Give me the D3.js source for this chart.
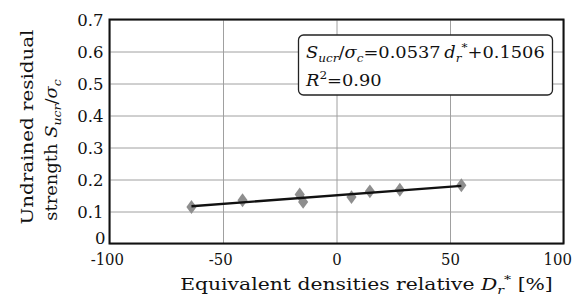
<!DOCTYPE html>
<html><head><meta charset="utf-8">
<script src="https://cdn.jsdelivr.net/npm/d3@7"></script>
<style>
body{margin:0;background:#fff;}
svg text{font-family:"DejaVu Serif","Liberation Serif",serif;fill:#111;}
</style></head>
<body><svg id="c" width="578" height="299"></svg>
<script>
// Data
const densities = [-63.9, -41.4, -16.2, -14.7, 6.6, 14.7, 27.9, 55.0]; // D*_r [%]
const strengths = [0.114, 0.135, 0.153, 0.130, 0.145, 0.163, 0.168, 0.182]; // S_ucr/sigma_c
const fitSlope = 0.0537, fitIntercept = 0.1506, fitR2 = "0.90";
const xTicks = [-100, -50, 0, 50, 100];
const yTicks = [0, 0.1, 0.2, 0.3, 0.4, 0.5, 0.6, 0.7];

const FONT = '"DejaVu Serif","Liberation Serif",serif';
const FS = 16.5, SUB = 11.5;
const svg = d3.select("#c");
const L = 109.5, R = 563.5, T = 19.5, B = 243.5;
const x = d3.scaleLinear().domain([-100, 100]).range([L, R]);
const y = d3.scaleLinear().domain([0, 0.7]).range([B, T]);

// stretch a text along its direction so that its length matches a target
function fitText(sel, target, tx, ty, rot) {
  const w = sel.node().getBBox().width;
  const s = target / w;
  sel.attr("transform", `translate(${tx},${ty}) rotate(${rot}) scale(${s},1)`);
  return s;
}

// grid
const gx = svg.append("g").attr("transform", `translate(0,${B})`)
  .call(d3.axisBottom(x).tickValues(xTicks).tickSize(-(B - T)).tickFormat(""));
gx.select(".domain").remove();
gx.selectAll("line").attr("stroke", "#a0a0a0").attr("stroke-width", 1);
const gy = svg.append("g").attr("transform", `translate(${L},0)`)
  .call(d3.axisLeft(y).tickValues(yTicks).tickSize(-(R - L)).tickFormat(""));
gy.select(".domain").remove();
gy.selectAll("line").attr("stroke", "#a0a0a0").attr("stroke-width", 1);

// tick labels
const ax = svg.append("g").attr("transform", `translate(0,${B})`)
  .call(d3.axisBottom(x).tickValues(xTicks).tickSize(0).tickPadding(0)
    .tickFormat(d => d < 0 ? "-" + Math.abs(d) : String(d)));
ax.attr("font-family", FONT);
ax.select(".domain").remove();
ax.selectAll("text").attr("font-size", FS).attr("dy", null).attr("y", 22).attr("fill", "#111")
  .attr("x", d => d === 100 ? -7 : (d < 0 ? -3 : 0))
  .attr("transform", "scale(0.9,1)");
const ay = svg.append("g").attr("transform", `translate(${L},0)`)
  .call(d3.axisLeft(y).tickValues(yTicks).tickSize(0).tickPadding(5)
    .tickFormat(d => d === 0 ? "0" : d3.format(".1f")(d)));
ay.attr("font-family", FONT);
ay.select(".domain").remove();
ay.selectAll("text").attr("font-size", FS).attr("dy", d => d === 0 ? "0" : "0.36em")
  .attr("x", d => d === 0 ? -4 : -6).attr("fill", "#111");

// markers
const xmin = d3.min(densities), xmax = d3.max(densities);
const fit = d => fitSlope * d / 100 + fitIntercept;
const sym = d3.symbol().type(d3.symbolDiamond).size(62);
svg.append("g").selectAll("path").data(densities).join("path")
  .attr("d", sym)
  .attr("transform", (d, i) => `translate(${x(d)},${y(strengths[i])}) scale(1.2,0.95)`)
  .attr("fill", "#8e8e8e");

// fit line
svg.append("line")
  .attr("x1", x(xmin)).attr("y1", y(fit(xmin)))
  .attr("x2", x(xmax)).attr("y2", y(fit(xmax)))
  .attr("stroke", "#111").attr("stroke-width", 2.4);

// frame
svg.append("rect").attr("x", L).attr("y", T).attr("width", R - L).attr("height", B - T)
  .attr("fill", "none").attr("stroke", "#111").attr("stroke-width", 2);

// annotation box
const box = svg.append("g");
box.append("rect").attr("x", 298.5).attr("y", 35).attr("width", 254).attr("height", 60)
  .attr("rx", 5).attr("fill", "#fff").attr("stroke", "#222").attr("stroke-width", 1.3);
const t1 = box.append("text").attr("font-size", FS + 0.5);
t1.append("tspan").attr("font-style", "italic").text("S");
t1.append("tspan").attr("font-style", "italic").attr("font-size", SUB).attr("dy", 4).text("ucr");
t1.append("tspan").attr("dy", -4).text("/");
t1.append("tspan").attr("font-style", "italic").text("σ");
t1.append("tspan").attr("font-style", "italic").attr("font-size", SUB).attr("dy", 4).text("c");
t1.append("tspan").attr("dy", -4).text("=0.0537\u2009");
t1.append("tspan").attr("font-style", "italic").text("d");
t1.append("tspan").attr("font-style", "italic").attr("font-size", SUB).attr("dy", 4).text("r");
t1.append("tspan").attr("font-size", SUB).attr("dy", -11).text("*");
t1.append("tspan").attr("dy", 7).text("+0.1506");
const s1 = fitText(t1, 239, 306, 58, 0);
const t2 = box.append("text").attr("font-size", FS + 0.5);
t2.append("tspan").attr("font-style", "italic").text("R");
t2.append("tspan").attr("font-size", SUB).attr("dy", -7).text("2");
t2.append("tspan").attr("dy", 7).text("=" + fitR2);
t2.attr("transform", `translate(306,86) scale(${s1},1)`);

// x axis label
const xl = svg.append("text").attr("text-anchor", "middle").attr("font-size", FS);
xl.append("tspan").text("Equivalent densities relative ");
xl.append("tspan").attr("font-style", "italic").text("D");
xl.append("tspan").attr("font-style", "italic").attr("font-size", SUB).attr("dy", 4).text("r");
xl.append("tspan").attr("font-size", SUB).attr("dy", -11).text("*");
xl.append("tspan").attr("dy", 7).text(" [%]");
fitText(xl, 373, 366.5, 290, 0);

// y axis label (two lines)
const yl1 = svg.append("text").attr("text-anchor", "middle").attr("font-size", FS).text("Undrained residual");
fitText(yl1, 195, 33, 127, -90);
const yl = svg.append("text").attr("text-anchor", "middle").attr("font-size", FS);
yl.append("tspan").text("strength ");
yl.append("tspan").attr("font-style", "italic").text("S");
yl.append("tspan").attr("font-style", "italic").attr("font-size", SUB).attr("dy", 4).text("ucr");
yl.append("tspan").attr("dy", -4).text("/");
yl.append("tspan").attr("font-style", "italic").text("σ");
yl.append("tspan").attr("font-style", "italic").attr("font-size", SUB).attr("dy", 4).text("c");
fitText(yl, 142, 57, 150, -90);
</script></body></html>
